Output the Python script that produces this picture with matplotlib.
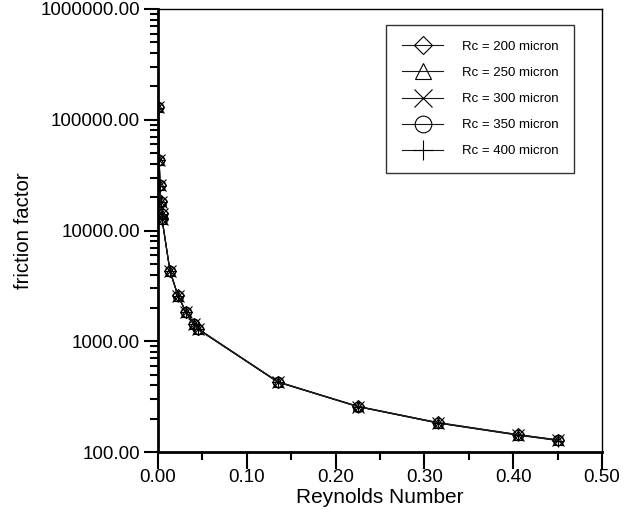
import matplotlib.pyplot as plt
from matplotlib.ticker import FixedLocator, FormatStrFormatter, LogLocator, NullFormatter

plt.rcParams['font.family'] = ['Liberation Sans', 'DejaVu Sans']

# Reynolds number (same for all radii)
reynolds = [0.00045, 0.00135, 0.00225, 0.00315, 0.00405, 0.0045,
            0.0135, 0.0225, 0.0315, 0.0405, 0.045,
            0.135, 0.225, 0.315, 0.405, 0.45]

# friction factor for each curvature radius
f_200 = [131000, 43500, 25800, 18400, 14300, 12900,
         4330, 2590, 1850, 1440, 1300, 432, 259, 185, 144, 129]
f_250 = [130500, 43300, 25700, 18300, 14200, 12800,
         4310, 2580, 1845, 1435, 1295, 430, 258, 184, 143.5, 128.5]
f_300 = [130000, 43100, 25600, 18200, 14150, 12750,
         4300, 2570, 1840, 1430, 1290, 429, 257.5, 183.5, 143, 128]
f_350 = [129500, 43000, 25500, 18150, 14100, 12700,
         4290, 2565, 1835, 1425, 1285, 428, 257, 183, 142.5, 127.5]
f_400 = [129000, 42900, 25400, 18100, 14050, 12650,
         4280, 2560, 1830, 1420, 1280, 427, 256.5, 182.5, 142, 127]

labels = ['Rc = 200 micron', 'Rc = 250 micron', 'Rc = 300 micron',
          'Rc = 350 micron', 'Rc = 400 micron']
markers = ['D', '^', 'x', 'o', '+']
sizes = [6, 7, 8, 7.5, 9]

fig = plt.figure(figsize=(6.31, 5.17), dpi=100)
ax = fig.add_axes([0.2504, 0.1257, 0.7036, 0.8569])

for f, lab, m, s in zip([f_200, f_250, f_300, f_350, f_400], labels, markers, sizes):
    ax.plot(reynolds, f, color='#1a1a1a', linewidth=0.8, marker=m, markersize=s,
            markerfacecolor='none', markeredgecolor='black', markeredgewidth=0.8,
            label=lab)

ax.set_yscale('log')
ax.set_xlim(0, 0.5)
ax.set_ylim(100, 1000000)

ax.xaxis.set_major_locator(FixedLocator([0, 0.1, 0.2, 0.3, 0.4, 0.5]))
ax.xaxis.set_minor_locator(FixedLocator([0.05, 0.15, 0.25, 0.35, 0.45]))
ax.xaxis.set_major_formatter(FormatStrFormatter('%.2f'))
ax.yaxis.set_major_locator(FixedLocator([100, 1000, 10000, 100000, 1000000]))
ax.yaxis.set_minor_locator(LogLocator(base=10, subs=range(2, 10)))
ax.yaxis.set_minor_formatter(NullFormatter())
ax.yaxis.set_major_formatter(FormatStrFormatter('%.2f'))

ax.tick_params(axis='both', which='major', direction='out', labelsize=13.6,
               top=False, right=False, width=1.5)
ax.tick_params(axis='x', which='major', length=12, pad=0.5)
ax.tick_params(axis='y', which='major', length=10, pad=3)
ax.tick_params(axis='both', which='minor', direction='out', length=6, width=1.5,
               top=False, right=False)

ax.spines['left'].set_linewidth(2)
ax.spines['bottom'].set_linewidth(2)
ax.spines['top'].set_linewidth(1)
ax.spines['right'].set_linewidth(1)

ax.set_xlabel('Reynolds Number', fontsize=15, labelpad=1)
ax.set_ylabel('friction factor', fontsize=14.7, labelpad=5)

leg = ax.legend(loc='upper right', bbox_to_anchor=(0.937, 0.964), fontsize=9.5,
                frameon=True, fancybox=False, edgecolor='black', handlelength=3.1,
                labelspacing=1.05, borderpad=1.2, handletextpad=1.4, borderaxespad=0,
                markerscale=1.6)
leg.get_frame().set_linewidth(1)

fig.savefig('out.png', dpi=100)
